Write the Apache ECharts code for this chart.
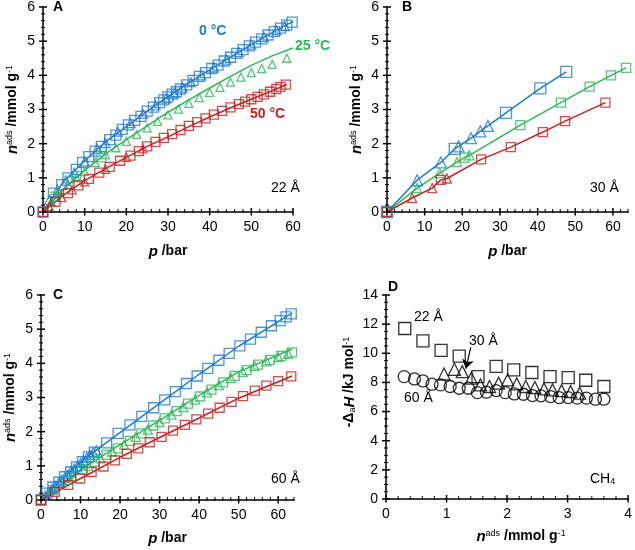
<!DOCTYPE html>
<html>
<head>
<meta charset="utf-8">
<script src="https://cdn.jsdelivr.net/npm/echarts@6/dist/echarts.min.js"></script>
<style>
  html, body { margin: 0; padding: 0; background: #fff; }
  #chart { width: 635px; height: 550px; }
</style>
</head>
<body>
<div id="chart"></div>
<script>
const FONT = 'Liberation Sans, Arial, sans-serif';
const BLUE = '#1f7bd0';
const GREEN = '#2cb858';
const RED = '#cc1f1f';

// tick labels
const pTicks = [0, 10, 20, 30, 40, 50, 60];
const nTicks = [0, 1, 2, 3, 4, 5, 6];
const hTicks = [0, 2, 4, 6, 8, 10, 12, 14];
const loadTicks = [0, 1, 2, 3, 4];

// A: 22 Å
const a0Sq = [[0,0],[2.5,0.55],[4.5,0.8],[6,1.0],[8,1.25],[9.5,1.45],[11,1.62],[12.5,1.78],[14,1.92],[16,2.12],[17.5,2.25],[19,2.42],[20.5,2.55],[22,2.68],[23.5,2.8],[25,2.95],[26.5,3.07],[28,3.2],[29,3.28],[30,3.37],[31,3.45],[32,3.52],[33,3.6],[34.5,3.72],[36,3.85],[37.5,3.97],[39,4.08],[40.5,4.2],[42,4.3],[43.5,4.42],[45,4.53],[46.5,4.64],[48,4.75],[49.5,4.86],[51,4.97],[52.5,5.07],[54,5.18],[55.5,5.28],[57,5.38],[58.5,5.47],[59.8,5.56]];
const a0Tri = [[1.5,0.35],[3.5,0.65],[5.5,0.92],[7.5,1.15],[10,1.48],[13,1.85],[15,2.02],[18,2.35],[21,2.6],[24,2.87],[27,3.12],[29.5,3.32],[31.5,3.48],[33.5,3.64],[35.5,3.8],[38,4.0],[41,4.23],[44,4.46],[47,4.68],[50,4.9],[53,5.12],[56,5.32],[58,5.44]];
const a0Fit = [[0,0],[5,0.9],[10,1.5],[15,2.05],[20,2.5],[25,2.95],[30,3.38],[35,3.78],[40,4.16],[45,4.53],[50,4.9],[55,5.25],[60,5.58]];
const a25Sq = [[3,0.45],[8,1.05],[14,1.6]];
const a25Tri = [[2,0.3],[4,0.58],[6,0.8],[8,1.0],[10,1.18],[12.5,1.45],[15,1.67],[17.5,1.88],[20,2.07],[22.5,2.27],[25,2.46],[27.5,2.65],[30,2.84],[32.5,3.01],[35,3.18],[37.5,3.35],[40,3.5],[42.5,3.65],[45,3.8],[47.5,3.95],[50,4.08],[52.5,4.2],[55,4.32],[58.5,4.5]];
const a25Fit = [[0,0],[5,0.68],[10,1.22],[15,1.7],[20,2.12],[25,2.52],[30,2.92],[35,3.28],[40,3.63],[45,3.97],[50,4.29],[55,4.57],[60,4.8]];
const a50Sq = [[0,0],[3,0.3],[6,0.55],[8.5,0.78],[11,0.97],[13.5,1.15],[16,1.32],[18.5,1.5],[21,1.65],[23,1.78],[25,1.92],[27,2.05],[29,2.17],[31,2.28],[33,2.4],[35,2.52],[37,2.63],[39,2.74],[41,2.85],[43,2.96],[45,3.06],[47,3.16],[48.5,3.23],[50,3.3],[51.5,3.37],[53,3.44],[54.5,3.52],[56,3.6],[57,3.66],[58.3,3.73]];
const a50Tri = [[1.5,0.15],[4.5,0.42],[7,0.65],[10,0.88],[15,1.25],[20,1.6],[24,1.85]];
const a50Fit = [[0,0],[5,0.5],[10,0.92],[15,1.27],[20,1.6],[25,1.92],[30,2.2],[35,2.5],[40,2.78],[45,3.05],[50,3.3],[55,3.55],[58.5,3.73]];

// B: 30 Å
const b0Sq = [[0,0],[18,1.85],[31.6,2.9],[40.7,3.62],[47.6,4.1]];
const b0Tri = [[8,0.93],[14.3,1.45],[19,1.92],[22.3,2.16],[24.8,2.36],[26.8,2.52]];
const b0Fit = [[0,0],[8,0.93],[14.3,1.45],[18,1.85],[19,1.92],[22.3,2.16],[24.8,2.36],[26.8,2.52],[31.6,2.9],[40.7,3.62],[47.6,4.1]];
const b25Sq = [[0,0],[20.6,1.59],[35.4,2.54],[46.2,3.2],[53.8,3.67],[59.5,4.0],[63.5,4.22]];
const b25Tri = [[8,0.7],[14,1.14],[18.6,1.46],[21.9,1.66]];
const b25Fit = [[0,0],[8,0.7],[14,1.14],[18.6,1.46],[20.6,1.59],[21.9,1.66],[35.4,2.54],[46.2,3.2],[53.8,3.67],[59.5,4.0],[63.5,4.22]];
const b50Sq = [[0,0],[14.3,0.94],[25,1.54],[32.9,1.9],[41.4,2.34],[47.3,2.66],[58,3.2]];
const b50Tri = [[6.7,0.41],[12,0.7],[15.9,0.98]];
const b50Fit = [[0,0],[6.7,0.41],[12,0.7],[14.3,0.94],[15.9,0.98],[25,1.54],[32.9,1.9],[41.4,2.34],[47.3,2.66],[58,3.2]];

// C: 60 Å
const c0Sq = [[0,0],[1.5,0.2],[3,0.38],[4.5,0.52],[6,0.68],[7.5,0.82],[9,0.97],[10.5,1.12],[12,1.26],[13.5,1.4],[16.6,1.67],[19.5,1.95],[22.5,2.2],[25.5,2.45],[28.5,2.7],[31.3,2.93],[34,3.17],[36.8,3.41],[39.5,3.63],[42.2,3.85],[45,4.09],[47.6,4.29],[50.3,4.51],[53,4.71],[55.7,4.91],[58.3,5.1],[60.5,5.25],[62,5.36],[63.3,5.45]];
const c0Tri = [[1,0.12],[2,0.25],[2.8,0.33],[3.6,0.42],[4.4,0.5],[5.2,0.58],[6,0.66],[6.8,0.75],[7.6,0.84],[8.4,0.92],[9.2,1.0],[10,1.08],[10.8,1.16],[11.6,1.24],[12.4,1.32],[13.2,1.4],[14,1.45]];
const c0Fit = [[0,0],[5,0.58],[10,1.1],[13,1.38],[20,1.97],[30,2.83],[40,3.68],[50,4.5],[63.5,5.47]];
const c25Sq = [[0,0],[3.1,0.29],[6.5,0.59],[10.3,0.88],[13.6,1.12],[16.6,1.32],[19.5,1.51],[22.5,1.73],[25.4,1.95],[28.4,2.18],[31.3,2.39],[34.3,2.6],[37.2,2.82],[40.2,3.03],[43.1,3.23],[46.1,3.44],[49,3.63],[52,3.8],[54.9,3.96],[57.9,4.1],[60.8,4.22],[63.5,4.32]];
const c25Tri = [[8,0.7],[12,1.0],[15,1.22],[18,1.42],[21,1.62],[24,1.85],[27,2.06],[30,2.28],[33,2.5],[36,2.72],[39,2.94],[42,3.15],[45,3.36],[48,3.57],[51,3.75],[54,3.92],[57,4.06],[60,4.18],[62.5,4.28]];
const c25Fit = [[0,0],[10,0.88],[20,1.62],[30,2.33],[40,3.06],[50,3.75],[63.5,4.42]];
const c50Sq = [[0,0],[3.5,0.24],[6.9,0.44],[9.9,0.63],[12.8,0.82],[15.8,0.98],[18.7,1.16],[21.7,1.35],[24.6,1.51],[27.5,1.69],[30.5,1.85],[33.4,2.03],[36.4,2.2],[39.3,2.36],[42.3,2.53],[45.2,2.7],[48.2,2.87],[51.1,3.04],[54.1,3.2],[57,3.35],[60,3.48],[63.3,3.62]];
const c50Fit = [[0,0],[10,0.63],[20,1.25],[30,1.83],[40,2.4],[50,2.98],[63.5,3.63]];

// D: heat of adsorption
const d22 = [[0.31,11.7],[0.61,10.85],[0.91,10.2],[1.21,9.8],[1.52,8.4],[1.82,9.1],[2.11,8.86],[2.41,8.68],[2.71,8.4],[3.01,8.33],[3.3,8.15],[3.6,7.72]];
const d30 = [[0.96,8.58],[1.13,8.9],[1.26,8.74],[1.41,8.29],[1.56,7.83],[1.71,7.72],[1.86,7.95],[2.01,8.17],[2.16,7.9],[2.31,7.72],[2.46,7.65],[2.61,7.56],[2.75,7.49],[2.9,7.44],[3.05,7.37],[3.2,7.26]];
const d60 = [[0.3,8.4],[0.47,8.24],[0.61,8.1],[0.76,7.88],[0.9,7.83],[1.06,7.72],[1.21,7.6],[1.36,7.6],[1.51,7.3],[1.66,7.33],[1.82,7.44],[1.97,7.3],[2.12,7.21],[2.27,7.19],[2.42,7.1],[2.56,7.08],[2.72,7.03],[2.86,6.96],[3.01,6.96],[3.16,6.92],[3.31,6.92],[3.46,6.85],[3.6,6.85]];
const arrow30 = [[1.4,10.4],[1.32,8.95]];

const rich = {
  t: { fontSize: 14, fontWeight: 'bold', fontFamily: FONT, color: '#000' },
  n: { fontSize: 15, fontWeight: 'bold', fontStyle: 'italic', fontFamily: FONT, color: '#000' },
  sup: { fontSize: 9, fontFamily: FONT, color: '#000', verticalAlign: 'top' },
  sub: { fontSize: 9, fontFamily: FONT, color: '#000', verticalAlign: 'bottom' }
};
const nameN = '{n|n}{sup|ads}{t| /mmol g}{sup|-1}';
const nameP = '{n|p}{t| /bar}';
const nameH = '{t|-Δ}{sub|a}{n|H}{t| /kJ mol}{sup|-1}';

const grids = [
  { left: 43, top: 7, width: 250, height: 205 },
  { left: 387, top: 7, width: 241, height: 205 },
  { left: 41, top: 295, width: 253, height: 205 },
  { left: 386, top: 295, width: 246, height: 204 }
];

const black = { color: '#000', width: 1.5 };

function mainAxis(gi, max, step, ticks, name, gap, pad) {
  return {
    type: 'value', gridIndex: gi, min: 0, max: max, interval: step,
    splitLine: { show: false },
    axisLine: { onZero: false, lineStyle: black },
    axisTick: { show: false },
    axisLabel: { customValues: ticks, fontSize: 14, color: '#000', fontFamily: FONT, margin: 8 },
    name: name, nameLocation: 'middle', nameGap: gap,
    nameTextStyle: { rich: rich, padding: pad || 0 }
  };
}

function sc(gi, data, symbol, color, size) {
  return {
    type: 'scatter', xAxisIndex: gi, yAxisIndex: gi, data: data,
    symbol: symbol, symbolSize: size, silent: true, z: 3,
    itemStyle: { color: 'rgba(0,0,0,0)', borderColor: color, borderWidth: 1.3 }
  };
}
function ln(gi, data, color) {
  return {
    type: 'line', xAxisIndex: gi, yAxisIndex: gi, data: data,
    symbol: 'none', silent: true, z: 2,
    lineStyle: { color: color, width: 1.5 }
  };
}

const xAxes = [
  mainAxis(0, 60, 10, pTicks, nameP, 32),
  mainAxis(1, 64, 10, pTicks, nameP, 32),
  mainAxis(2, 64, 10, pTicks, nameP, 31),
  mainAxis(3, 4, 1, loadTicks, nameN, 30, [0, 0, 0, 28])
];
const yAxes = [
  mainAxis(0, 6, 1, nTicks, nameN, 23),
  mainAxis(1, 6, 1, nTicks, nameN, 23),
  mainAxis(2, 6, 1, nTicks, nameN, 23),
  mainAxis(3, 14, 2, hTicks, nameH, 29, [0, 0, 0, 30])
];

const d60Series = sc(3, d60, 'circle', '#000', 12);
d60Series.markLine = {
  silent: true, symbol: ['none', 'arrow'], symbolSize: 9,
  label: { show: false },
  lineStyle: { color: '#000', width: 1.2, type: 'solid' },
  data: [[{ coord: arrow30[0] }, { coord: arrow30[1] }]]
};

const series = [
  ln(0, a0Fit, BLUE), ln(0, a25Fit, GREEN), ln(0, a50Fit, RED),
  sc(0, a0Sq, 'rect', BLUE, 10), sc(0, a0Tri, 'triangle', BLUE, 9),
  sc(0, a25Sq, 'rect', GREEN, 9), sc(0, a25Tri, 'triangle', GREEN, 8),
  sc(0, a50Sq, 'rect', RED, 9), sc(0, a50Tri, 'triangle', RED, 8),

  ln(1, b0Fit, BLUE), ln(1, b25Fit, GREEN), ln(1, b50Fit, RED),
  sc(1, b0Sq, 'rect', BLUE, 11), sc(1, b0Tri, 'triangle', BLUE, 11),
  sc(1, b25Sq, 'rect', GREEN, 9), sc(1, b25Tri, 'triangle', GREEN, 9),
  sc(1, b50Sq, 'rect', RED, 9), sc(1, b50Tri, 'triangle', RED, 9),

  ln(2, c0Fit, BLUE), ln(2, c25Fit, GREEN), ln(2, c50Fit, RED),
  sc(2, c0Sq, 'rect', BLUE, 10), sc(2, c0Tri, 'triangle', BLUE, 9),
  sc(2, c25Sq, 'rect', GREEN, 9), sc(2, c25Tri, 'triangle', GREEN, 9),
  sc(2, c50Sq, 'rect', RED, 9),

  sc(3, d22, 'rect', '#000', 12),
  sc(3, d30, 'triangle', '#000', 12),
  d60Series
];
// first series drawn in each grid, used to find that grid's scales
const gridSeries = [0, 9, 18, 26];

function label(left, top, text, color, bold) {
  return {
    type: 'text', left: left, top: top, silent: true,
    style: {
      text: text, fill: color, fontFamily: FONT, fontSize: 14,
      fontWeight: bold ? 'bold' : 'normal', rich: rich
    }
  };
}

const labels = [
  label(53, 0, 'A', '#000', true),
  label(402, 0, 'B', '#000', true),
  label(53, 288, 'C', '#000', true),
  label(388, 280, 'D', '#000', true),
  label(199, 24, '0 °C', BLUE, true),
  label(295, 39, '25 °C', GREEN, true),
  label(250, 107, '50 °C', RED, true),
  label(271, 181, '22 Å', '#000', false),
  label(590, 181, '30 Å', '#000', false),
  label(271, 472, '60 Å', '#000', false),
  label(414, 310, '22 Å', '#000', false),
  label(469, 334, '30 Å', '#000', false),
  label(404, 391, '60 Å', '#000', false),
  {
    type: 'text', left: 590, top: 472, silent: true,
    style: {
      text: 'CH{s|4}', fill: '#000', fontFamily: FONT, fontSize: 14,
      rich: { s: { fontSize: 9, fontFamily: FONT, verticalAlign: 'bottom', padding: [6, 0, 0, 0] } }
    }
  }
];

const chart = echarts.init(document.getElementById('chart'), null, { renderer: 'canvas' });
chart.setOption({
  backgroundColor: '#fff',
  animation: false,
  textStyle: { fontFamily: FONT },
  grid: grids,
  xAxis: xAxes,
  yAxis: yAxes,
  series: series,
  graphic: labels
});

// tick marks, placed through each grid's own scales, crossing the axis line
function minorVals(max, step, major) {
  const out = [];
  for (let i = 1; i * step <= max + 1e-9; i++) {
    const v = +(i * step).toFixed(4);
    if (Math.abs(v / major - Math.round(v / major)) > 1e-6) out.push(v);
  }
  return out;
}
function toPixel(gi, pt) {
  let p = null;
  try { p = chart.convertToPixel({ seriesIndex: gridSeries[gi] }, pt); } catch (e) { p = null; }
  if (!p) {
    try { p = chart.convertToPixel({ gridIndex: gi }, pt); } catch (e) { p = null; }
  }
  return p;
}
function tickBars(gi, dir, values, out, inn, w) {
  const bars = [];
  values.forEach(function (v) {
    const p = toPixel(gi, dir === 'x' ? [v, 0] : [0, v]);
    if (!p) return;
    const shape = dir === 'x'
      ? { x: p[0] - w / 2, y: p[1] - inn, width: w, height: inn + out }
      : { x: p[0] - out, y: p[1] - w / 2, width: inn + out, height: w };
    bars.push({ type: 'rect', z: 100, shape: shape, style: { fill: '#000' } });
  });
  return bars;
}
const axisSpecs = [
  [0, pTicks, 60, 2, 10, nTicks, 6, 0.2, 1],
  [1, pTicks, 64, 2, 10, nTicks, 6, 0.2, 1],
  [2, pTicks, 64, 2, 10, nTicks, 6, 0.2, 1],
  [3, loadTicks, 4, 0.2, 1, hTicks, 14, 0.5, 2]
];
let ticks = [];
axisSpecs.forEach(function (s) {
  ticks = ticks.concat(
    tickBars(s[0], 'x', s[1], 3.5, 4, 1.5),
    tickBars(s[0], 'x', minorVals(s[2], s[3], s[4]), 1, 3, 1),
    tickBars(s[0], 'y', s[5], 4, 4, 1.5),
    tickBars(s[0], 'y', minorVals(s[6], s[7], s[8]), 2, 2, 1)
  );
});
chart.setOption({ graphic: labels.concat(ticks) });
</script>
</body>
</html>
